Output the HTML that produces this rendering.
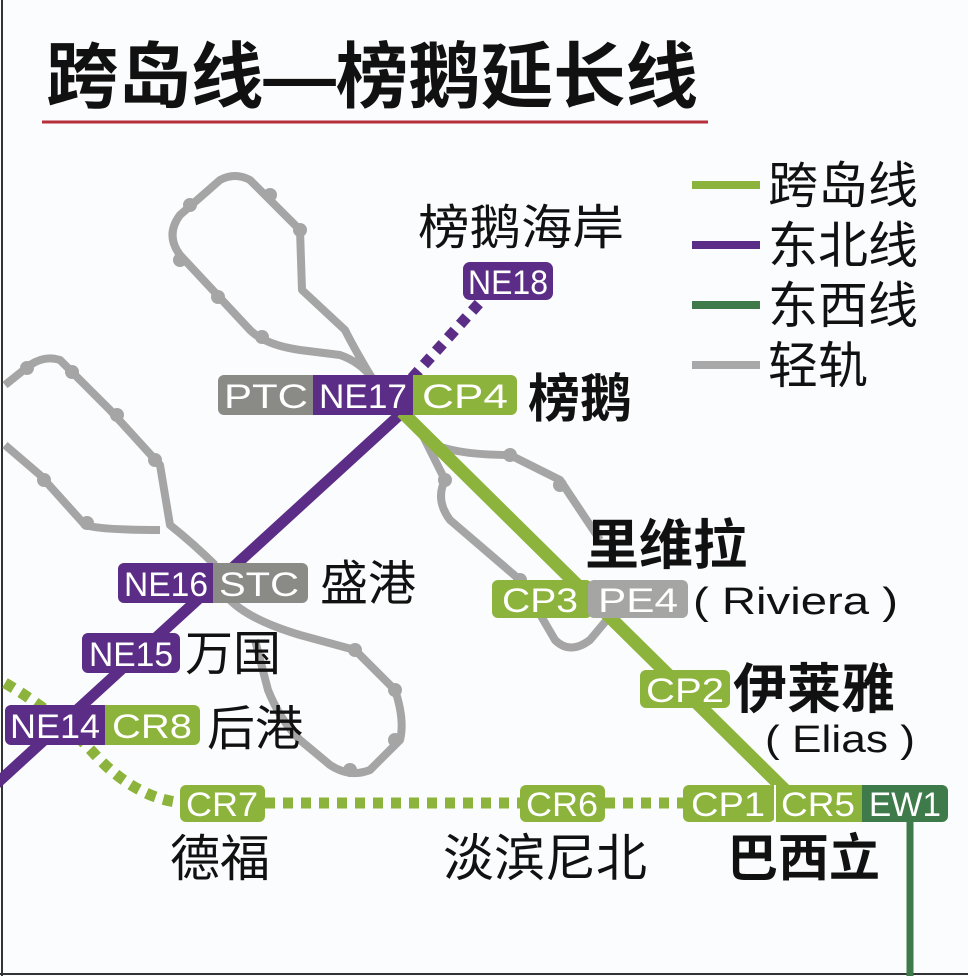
<!DOCTYPE html>
<html><head><meta charset="utf-8"><style>
html,body{margin:0;padding:0;background:#fff}
svg{display:block}
text{font-family:"Liberation Sans","Noto Sans CJK SC",sans-serif}
.bx{fill:#fff;font-size:34px;text-anchor:middle}
</style></head><body>
<svg width="968" height="976" viewBox="0 0 968 976" xmlns="http://www.w3.org/2000/svg">
<rect x="0" y="0" width="968" height="976" fill="#fbfcfd"/>
<line x1="2" y1="0" x2="2" y2="976" stroke="#333" stroke-width="2"/>
<line x1="0" y1="974" x2="968" y2="974" stroke="#333" stroke-width="2"/>
<text x="46" y="102" font-size="72" font-weight="bold" fill="#111" textLength="652" lengthAdjust="spacingAndGlyphs">跨岛线—榜鹅延长线</text>
<line x1="42" y1="122" x2="708" y2="122" stroke="#b5303a" stroke-width="3"/>

<!-- legend -->
<g stroke-width="8">
<line x1="692" y1="185" x2="760" y2="185" stroke="#8cb43c"/>
<line x1="692" y1="245" x2="760" y2="245" stroke="#5b2d86"/>
<line x1="692" y1="305" x2="760" y2="305" stroke="#3e7a4a"/>
<line x1="692" y1="365" x2="760" y2="365" stroke="#a8a8a8"/>
</g>
<g font-size="50" fill="#111">
<text x="768" y="203">跨岛线</text>
<text x="768" y="263">东北线</text>
<text x="768" y="323">东西线</text>
<text x="768" y="383">轻轨</text>
</g>

<!-- LRT loops -->
<g fill="none" stroke="#a5a5a5" stroke-width="8" stroke-linejoin="round">
<path d="M372,378 Q355,350 345,330 L302,290 L300,230 L250,180 Q235,172 220,180 L180,215 Q165,235 180,255 L250,330 Q265,345 300,350 L340,355 Q360,362 372,378"/>
<path d="M215,565 Q195,545 170,525 L160,465 L110,410 L60,360 Q45,355 30,365 L5,385 M5,445 L40,475 L85,525 Q100,530 160,530"/>
<path d="M420,430 L445,480 Q435,500 450,520 L520,580 L555,640 Q570,655 590,640 L615,610 M425,440 Q450,455 510,455 L560,480 L600,540"/>
<path d="M230,600 Q250,620 300,635 L355,650 L395,690 Q405,720 400,740 L370,770 Q350,778 330,765 L300,740 Q280,720 268,690 L255,640"/>
</g>
<g fill="#a5a5a5">
<circle cx="300" cy="230" r="7"/><circle cx="270" cy="195" r="7"/><circle cx="190" cy="205" r="7"/><circle cx="180" cy="260" r="7"/><circle cx="218" cy="297" r="7"/><circle cx="262" cy="337" r="7"/>
<circle cx="155" cy="460" r="7"/><circle cx="117" cy="415" r="7"/><circle cx="72" cy="372" r="7"/><circle cx="27" cy="368" r="7"/><circle cx="44" cy="480" r="7"/><circle cx="87" cy="523" r="7"/>
<circle cx="445" cy="480" r="7"/><circle cx="510" cy="455" r="7"/><circle cx="520" cy="580" r="7"/><circle cx="560" cy="485" r="7"/>
<circle cx="355" cy="650" r="7"/><circle cx="395" cy="690" r="7"/><circle cx="395" cy="740" r="7"/><circle cx="350" cy="770" r="7"/>
</g>

<!-- lines -->
<line x1="405" y1="410" x2="-5" y2="785" stroke="#5b2d86" stroke-width="11"/>
<line x1="412" y1="378" x2="482" y2="300" stroke="#5b2d86" stroke-width="11" stroke-dasharray="10,8"/>
<line x1="402" y1="412" x2="790" y2="795" stroke="#8cb43c" stroke-width="13"/>
<path d="M5,683 Q60,715 100,760 Q140,800 185,803" fill="none" stroke="#8cb43c" stroke-width="11" stroke-dasharray="10,8"/>
<line x1="265" y1="803" x2="520" y2="803" stroke="#8cb43c" stroke-width="11" stroke-dasharray="10,8"/>
<line x1="605" y1="803" x2="683" y2="803" stroke="#8cb43c" stroke-width="11" stroke-dasharray="10,8"/>
<line x1="910" y1="815" x2="910" y2="976" stroke="#3e7a4a" stroke-width="7"/>

<!-- boxes -->
<g>
<rect x="218" y="375" width="100" height="40" rx="6" fill="#8a8a86"/>
<rect x="313" y="375" width="100" height="40" fill="#5b2d86"/>
<rect x="413" y="375" width="104" height="40" rx="6" fill="#8cb43c"/><rect x="413" y="375" width="10" height="40" fill="#8cb43c"/>
<text class="bx" x="266" y="408" textLength="84" lengthAdjust="spacingAndGlyphs">PTC</text><text class="bx" x="363" y="408" textLength="88" lengthAdjust="spacingAndGlyphs">NE17</text><text class="bx" x="465" y="408" textLength="86" lengthAdjust="spacingAndGlyphs">CP4</text>

<rect x="463" y="262" width="90" height="38" rx="7" fill="#5b2d86"/><text class="bx" x="508" y="294" textLength="80" lengthAdjust="spacingAndGlyphs">NE18</text>

<rect x="118" y="563" width="100" height="40" rx="6" fill="#5b2d86"/>
<rect x="213" y="563" width="95" height="40" rx="6" fill="#8a8a86"/><rect x="213" y="563" width="10" height="40" fill="#8a8a86"/>
<text class="bx" x="166" y="596" textLength="84" lengthAdjust="spacingAndGlyphs">NE16</text><text class="bx" x="259" y="596" textLength="80" lengthAdjust="spacingAndGlyphs">STC</text>

<rect x="82" y="633" width="98" height="40" rx="6" fill="#5b2d86"/><text class="bx" x="131" y="666" textLength="84" lengthAdjust="spacingAndGlyphs">NE15</text>

<rect x="5" y="705" width="105" height="40" rx="6" fill="#5b2d86"/>
<rect x="105" y="705" width="95" height="40" rx="6" fill="#8cb43c"/><rect x="105" y="705" width="10" height="40" fill="#8cb43c"/>
<text class="bx" x="55" y="738" textLength="90" lengthAdjust="spacingAndGlyphs">NE14</text><text class="bx" x="152" y="738" textLength="80" lengthAdjust="spacingAndGlyphs">CR8</text>

<rect x="492" y="580" width="100" height="38" rx="6" fill="#8cb43c"/>
<rect x="588" y="580" width="100" height="38" rx="6" fill="#a5a5a3"/>
<text class="bx" x="540" y="612" textLength="76" lengthAdjust="spacingAndGlyphs">CP3</text><text class="bx" x="638" y="612" textLength="80" lengthAdjust="spacingAndGlyphs">PE4</text>

<rect x="640" y="670" width="90" height="38" rx="6" fill="#8cb43c"/><text class="bx" x="685" y="702" textLength="78" lengthAdjust="spacingAndGlyphs">CP2</text>

<rect x="180" y="785" width="85" height="37" rx="6" fill="#8cb43c"/><text class="bx" x="222" y="816" textLength="72" lengthAdjust="spacingAndGlyphs">CR7</text>
<rect x="520" y="785" width="85" height="37" rx="6" fill="#8cb43c"/><text class="bx" x="562" y="816" textLength="72" lengthAdjust="spacingAndGlyphs">CR6</text>
<rect x="683" y="785" width="92" height="37" rx="6" fill="#8cb43c"/>
<rect x="775" y="785" width="90" height="37" fill="#8cb43c"/>
<line x1="775" y1="785" x2="775" y2="822" stroke="#fff" stroke-width="2"/>
<rect x="862" y="785" width="86" height="37" rx="6" fill="#3e7a4a"/><rect x="862" y="785" width="10" height="37" fill="#3e7a4a"/>
<text class="bx" x="728" y="816" textLength="74" lengthAdjust="spacingAndGlyphs">CP1</text><text class="bx" x="818" y="816" textLength="74" lengthAdjust="spacingAndGlyphs">CR5</text><text class="bx" x="905" y="816" textLength="72" lengthAdjust="spacingAndGlyphs">EW1</text>
</g>

<!-- labels -->
<g fill="#111" font-size="48">
<text x="418" y="244" textLength="206" lengthAdjust="spacingAndGlyphs">榜鹅海岸</text>
<text x="528" y="417" font-weight="bold" font-size="52">榜鹅</text>
<text x="320" y="600">盛港</text>
<text x="185" y="670">万国</text>
<text x="207" y="745">后港</text>
<text x="585" y="564" font-weight="bold" font-size="54">里维拉</text>
<text x="693" y="614" font-size="38" textLength="205" lengthAdjust="spacingAndGlyphs">( Riviera )</text>
<text x="733" y="708" font-weight="bold" font-size="54">伊莱雅</text>
<text x="765" y="752" font-size="38" textLength="150" lengthAdjust="spacingAndGlyphs">( Elias )</text>
<text x="170" y="876" font-size="50">德福</text>
<text x="443" y="876" font-size="51">淡滨尼北</text>
<text x="727" y="876" font-weight="bold" font-size="51">巴西立</text>
</g>
</svg>
</body></html>
